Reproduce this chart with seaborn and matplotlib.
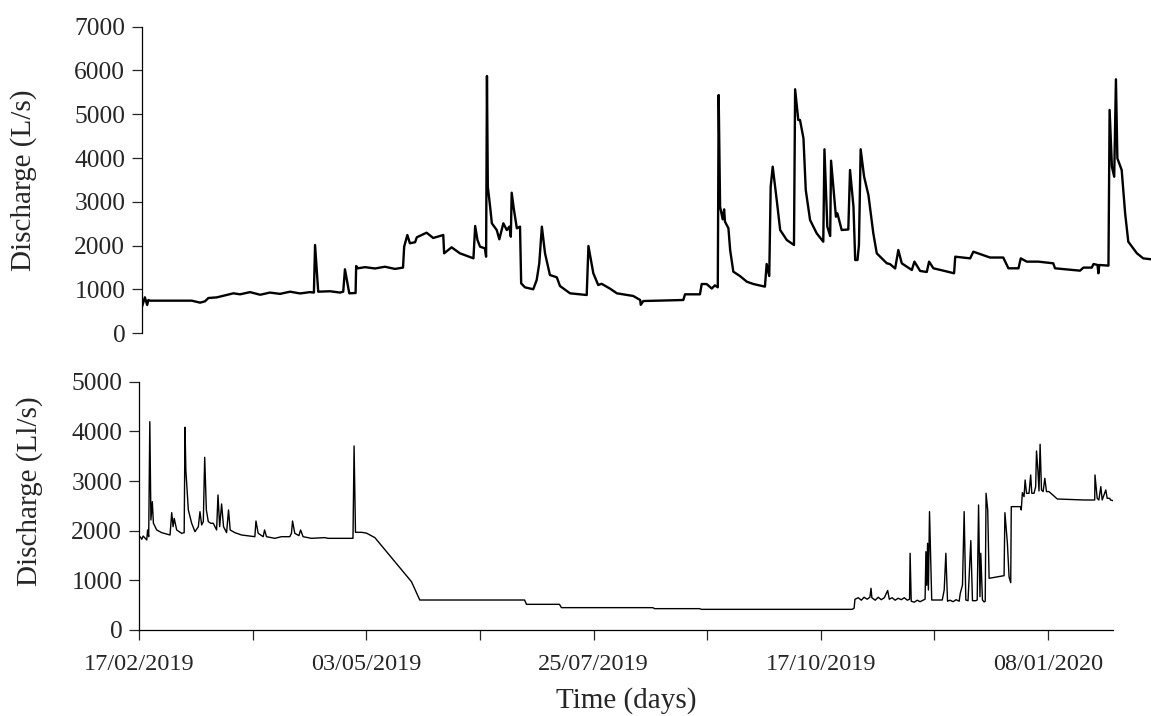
import numpy as np
import pandas as pd
import matplotlib
matplotlib.use("Agg")
import matplotlib.pyplot as plt
import seaborn as sns

# ---------------- data ----------------
top_days = [0, 1.0, 1.8, 2.2, 2.8, 17.3, 20.2, 21.9, 23.1, 26.0, 31.8, 34.1, 37.6, 41.1, 44.5, 48.0, 51.5, 55.0,
            58.4, 59.8, 60.2, 61.3, 65.4, 68.9, 70.0, 70.6, 72.1, 74.3, 74.5, 75.1, 77.6, 81.1, 84.5, 88.0, 90.8,
            91.2, 92.3, 93.2, 95.0, 95.6, 99.0, 101.3, 104.8, 105.1, 107.7, 110.6, 115.3, 115.9, 116.7, 117.6,
            119.3, 119.7, 120.0, 120.3, 121.1, 121.7, 123.4, 124.3, 125.7, 126.9, 127.8, 128.3, 128.6, 129.4,
            130.4, 131.5, 131.9, 133.2, 136.1, 137.3, 138.2, 139.1, 140.2, 141.9, 144.3, 145.4, 148.9, 154.7,
            155.3, 157.0, 158.7, 159.9, 162.8, 165.2, 170.9, 173.3, 173.5, 174.4, 188.3, 188.9, 194.1, 194.7,
            196.4, 198.2, 199.3, 200.3, 200.6, 201.1, 202.0, 202.5, 202.8, 204.0, 204.6, 205.7, 208.0, 210.4,
            212.7, 216.7, 217.3, 218.2, 218.7, 219.4, 220.8, 222.0, 224.3, 226.8, 227.2, 228.3, 228.9, 230.1,
            230.9, 232.4, 234.7, 237.0, 237.4, 238.4, 239.4, 239.7, 240.5, 241.4, 241.9, 243.4, 245.7, 246.3,
            247.5, 248.1, 248.9, 249.4, 250.0, 251.2, 252.7, 254.4, 255.6, 259.1, 260.2, 262.0, 263.1, 264.3,
            267.8, 268.7, 270.7, 273.0, 273.8, 275.3, 278.8, 282.5, 282.9, 288.1, 289.2, 295.0, 299.6, 301.4,
            304.9, 305.7, 307.8, 311.8, 317.0, 317.6, 326.3, 327.5, 330.4, 331.0, 332.4, 332.7, 333.0, 336.2,
            336.6, 337.4, 338.2, 338.8, 339.3, 340.8, 342.0, 343.1, 346.1, 348.3, 351.0]
top_flow = [607, 822, 646, 760, 745, 745, 700, 730, 806, 820, 913, 890, 940, 880, 930, 900, 950, 910,
            940, 930, 2016, 950, 960, 930, 950, 1461, 913, 920, 1536, 1484, 1510, 1480, 1520, 1470, 1500,
            1977, 2244, 2055, 2080, 2192, 2297, 2176, 2244, 1826, 1963, 1826, 1712, 2450, 2130, 1977,
            1940, 1749, 5874, 3347, 2890, 2511, 2358, 2146, 2511, 2358, 2435, 2205, 3210, 2815,
            2397, 2435, 1141, 1050, 1005, 1217, 1598, 2435, 1826, 1331, 1278, 1080, 913, 874,
            1993, 1370, 1103, 1130, 1020, 913, 852, 760, 650, 737, 760, 890, 890, 1125,
            1125, 1022, 1095, 1050, 5441, 2890, 2602, 2830, 2550, 2397, 1901, 1407, 1308, 1178,
            1125, 1065, 1582, 1308, 3347, 3804, 3043, 2358, 2130, 2016, 5571, 4870, 4870, 4452,
            3272, 2587, 2283, 2091, 4201, 2435, 2221, 3941, 3347, 2662, 2740, 2358, 2370, 3728,
            2890, 1673, 1673, 2016, 4201, 3575, 3157, 2283, 1826, 1598, 1580, 1480, 1901, 1598,
            1445, 1636, 1423, 1400, 1636, 1484, 1430, 1370, 1749, 1711, 1863, 1730, 1730, 1484,
            1484, 1711, 1636, 1636, 1598, 1484, 1430, 1500, 1500, 1582, 1560, 1370, 1560, 1545,
            5099, 3804, 3575, 5799, 3995, 3728, 2740, 2091, 1826, 1711, 1690]

bottom_days = [0.4, 1.0, 1.5, 2.8, 3.1, 3.5, 3.9, 4.3, 4.8, 5.2, 6.4, 8.2, 11.2, 11.8, 12.3, 12.7, 13.6, 15.4,
               16.3, 16.6, 16.9, 17.8, 19.0, 20.2, 21.4, 22.0, 22.6, 23.2, 23.7, 24.3, 25.0, 25.9, 26.8, 28.0,
               28.5, 29.1, 29.8, 30.5, 31.6, 32.3, 32.9, 34.6, 37.0, 41.8, 42.2, 43.0, 44.8, 45.3, 46.0, 49.0,
               51.4, 54.4, 55.0, 55.4, 56.2, 57.7, 58.3, 59.2, 62.2, 67.0, 68.2, 77.2, 77.6, 78.1, 80.3, 82.1,
               85.1, 98.3, 101.3, 139.1, 139.8, 151.7, 152.4, 185.4, 186.0, 202.2, 202.9, 257.3, 258.0, 258.3,
               259.5, 260.6, 261.6, 262.7, 263.7, 264.1, 264.4, 265.6, 266.7, 267.8, 268.9, 270.1, 270.7,
               271.7, 272.8, 273.9, 275.0, 276.1, 277.2, 278.0, 278.2, 278.6, 279.7, 280.8, 281.8, 282.9,
               283.6, 283.9, 284.2, 284.5, 284.8, 285.2, 286.0, 289.8, 290.5, 291.1, 291.7, 292.6, 293.7,
               294.8, 295.9, 296.3, 297.1, 297.7, 298.3, 299.1, 300.1, 300.7, 301.9, 302.4, 302.9, 303.4,
               303.7, 304.3, 304.9, 305.3, 305.6, 306.2, 306.7, 312.1, 312.4, 313.3, 313.9, 314.5, 314.7,
               318.1, 318.3, 318.7, 319.3, 319.7, 320.2, 321.1, 321.7, 322.1, 322.9, 323.5, 323.8, 324.3,
               324.7, 325.1, 325.6, 326.2, 326.8, 327.4, 328.3, 331.3, 341.0, 344.8, 344.9, 345.7, 346.3,
               347.0, 347.5, 348.8, 349.3, 350.2, 350.5, 351.4]
bottom_flow = [1879, 1827, 1892, 1813, 2014, 1879, 4195, 2215, 2584, 2149, 2014, 1960, 1913, 2363, 2080, 2249, 2014, 1947,
               1960, 4082, 3222, 2417, 2149, 1980, 2080, 2383, 2115, 2182, 3478, 2417, 2182, 2149, 2149, 2014,
               2719, 2080, 2538, 2080, 1960, 2417, 2014, 1960, 1913, 1879, 2195, 1947, 1879, 2014, 1879, 1846,
               1879, 1879, 1947, 2195, 1947, 1900, 2014, 1879, 1846, 1860, 1846, 1846, 3706, 1967, 1967, 1950,
               1860, 973, 604, 604, 517, 517, 450, 450, 430, 430, 416, 416, 440, 618,
               650, 600, 660, 620, 660, 840, 650, 600, 660, 610, 650, 796, 620,
               650, 600, 640, 610, 650, 600, 620, 1545, 580, 560, 600, 570, 600,
               620, 1577, 900, 1746, 805, 2383, 604, 604, 805, 1545, 580, 600, 570,
               610, 580, 738, 906, 2383, 604, 590, 1799, 590, 590, 604, 2517, 671,
               1545, 604, 564, 580, 2753, 2417, 1041, 1094, 2363, 1746, 1068, 953, 2484,
               2484, 2417, 2766, 2685, 3021, 2753, 2753, 3122, 2753, 2753, 2887, 3605, 3222,
               2800, 3740, 2820, 2787, 3055, 2787, 2787, 2638, 2618, 2618, 3122, 2652, 2618,
               2887, 2618, 2820, 2652, 2652, 2618, 2605]

tick_days = [0, 41, 82, 123, 164, 205, 246, 287, 328]
tick_labels = ["17/02/2019", "", "03/05/2019", "", "25/07/2019", "", "17/10/2019", "", "08/01/2020"]

top_df = pd.DataFrame({"day": top_days, "Q": top_flow})
bot_df = pd.DataFrame({"day": bottom_days, "Q": bottom_flow})

# ---------------- style ----------------
sns.set_theme(style="white")
plt.rcParams["font.family"] = ["Liberation Serif", "DejaVu Serif"]
plt.rcParams["axes.edgecolor"] = "black"
plt.rcParams["axes.linewidth"] = 0.9

W, H = 1151, 716
fig = plt.figure(figsize=(W / 100, H / 100), dpi=100)

def px_axes(left, right, top, bottom):
    return fig.add_axes([left / W, 1 - bottom / H, (right - left) / W, (bottom - top) / H])

ax1 = px_axes(142, 1151, 26.7, 333.3)
ax2 = px_axes(139, 1113, 381.7, 630)

sns.lineplot(data=top_df, x="day", y="Q", ax=ax1, color="black", linewidth=1.7,
             estimator=None, sort=False)
sns.lineplot(data=bot_df, x="day", y="Q", ax=ax2, color="black", linewidth=1.0,
             estimator=None, sort=False)

ytick_fs = 18.4
xtick_fs = 17.5
label_fs = 21

# top panel
ax1.set_xlim(0, 351)
ax1.set_ylim(0, 7000)
ax1.set_yticks(range(0, 7001, 1000))
ax1.set_xticks([])
ax1.set_xlabel("")
ax1.set_ylabel("Discharge (L/s)", fontsize=label_fs)
ax1.yaxis.set_label_coords(-0.104, 0.5)
for s in ["top", "right", "bottom"]:
    ax1.spines[s].set_visible(False)
ax1.tick_params(axis="y", direction="out", length=7, width=0.9, pad=5, labelsize=ytick_fs, left=True)

# bottom panel
ax2.set_xlim(0, 351.4)
ax2.set_ylim(0, 5000)
ax2.set_yticks(range(0, 5001, 1000))
ax2.set_xticks(tick_days)
ax2.set_xticklabels(tick_labels)
ax2.set_xlabel("Time (days)", fontsize=label_fs, labelpad=9)
ax2.set_ylabel("Discharge (Ll/s)", fontsize=label_fs)
ax2.yaxis.set_label_coords(-0.0986, 0.56)
for s in ["top", "right"]:
    ax2.spines[s].set_visible(False)
ax2.tick_params(axis="y", direction="out", length=7, width=0.9, pad=5, labelsize=ytick_fs, left=True)
ax2.tick_params(axis="x", direction="out", length=7, width=0.9, pad=10, labelsize=xtick_fs, bottom=True)

for ax in (ax1, ax2):
    ax.grid(False)
    ax.set_facecolor("white")

fig.savefig("out.png", dpi=100, facecolor="white")
